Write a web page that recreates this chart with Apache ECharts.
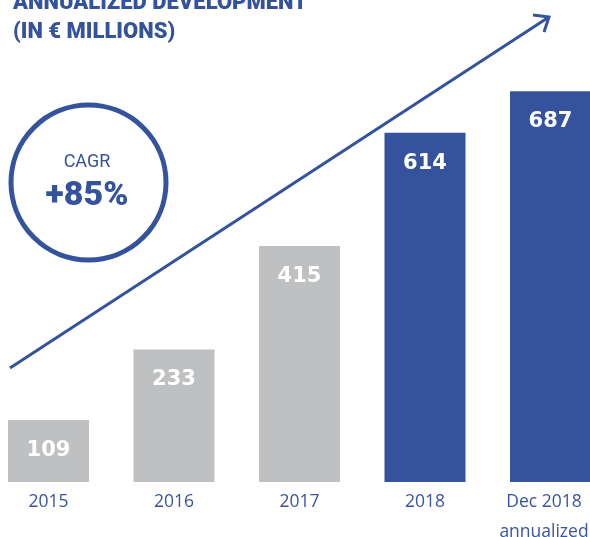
<!DOCTYPE html>
<html>
<head>
<meta charset="utf-8">
<style>html,body{margin:0;padding:0;background:#fff;}#c{width:590px;height:537px;}</style>
<script src="https://cdn.jsdelivr.net/npm/echarts@6/dist/echarts.min.js"></script>
</head>
<body>
<div id="c"></div>
<script>
const categories = ['2015', '2016', '2017', '2018', 'Dec 2018\nannualized'];
const values = [109, 233, 415, 614, 687];
const barColors = ['#bfc0c2', '#bfc0c2', '#bfc0c2', '#34539c', '#34539c'];
const titleText = 'ANNUALIZED DEVELOPMENT\n(IN € MILLIONS)';
const cagrLabel = 'CAGR';
const cagrValue = '+85%';

const BLUE = '#34539c';
const chart = echarts.init(document.getElementById('c'), null, {renderer: 'canvas'});
chart.setOption({
  animation: false,
  backgroundColor: '#fff',
  title: {
    text: titleText,
    left: 8, top: -16,
    textStyle: {color: BLUE, fontFamily: 'Roboto', fontWeight: 900, fontSize: 22, lineHeight: 29}
  },
  grid: {left: -14.25, width: 627.5, top: 27, bottom: 55, outerBoundsMode: 'none', containLabel: false},
  xAxis: {
    type: 'category',
    data: categories.map((c, i) => i === categories.length - 1 ? {value: c, textStyle: {padding: [0, 13, 0, 0]}} : c),
    axisLine: {show: false}, axisTick: {show: false}, splitLine: {show: false},
    axisLabel: {color: '#3a55a0', fontFamily: 'Open Sans', fontSize: 17.5, lineHeight: 30, margin: 5, interval: 0}
  },
  yAxis: {type: 'value', min: 0, max: 800, show: false, splitLine: {show: false}},
  series: [{
    type: 'bar',
    barWidth: 81,
    data: values.map((v, i) => ({value: v, itemStyle: {color: barColors[i]}})),
    label: {
      show: true, position: 'insideTop', distance: 20,
      color: '#fff', fontFamily: 'DejaVu Sans', fontWeight: 'bold', fontSize: 21
    }
  }],
  graphic: [
    {type: 'circle', shape: {cx: 88.5, cy: 182.5, r: 77.5}, style: {fill: 'none', stroke: BLUE, lineWidth: 5}},
    {type: 'text', x: 87, y: 162, style: {text: cagrLabel, fill: BLUE, font: '18px Roboto', align: 'center', verticalAlign: 'middle'}},
    {type: 'text', x: 87, y: 196, style: {text: cagrValue, fill: BLUE, font: '900 34px Roboto', align: 'center', verticalAlign: 'middle'}},
    {type: 'polyline', shape: {points: [[10, 368], [549, 17]]}, style: {stroke: BLUE, lineWidth: 3, fill: 'none'}},
    {type: 'polyline', shape: {points: [[533, 15], [549, 17], [544, 32]]}, style: {stroke: BLUE, lineWidth: 3, fill: 'none'}}
  ]
});
</script>
</body>
</html>
